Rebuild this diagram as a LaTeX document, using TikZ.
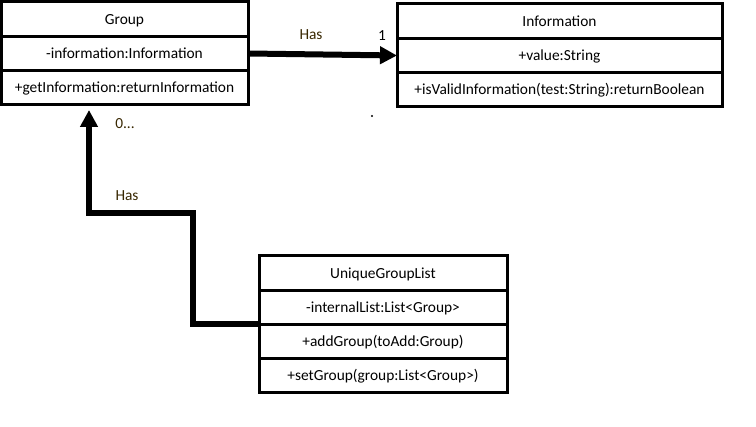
\documentclass[tikz,border=0pt]{standalone}
\usepackage{fontspec}
\setmainfont{Carlito}
\usetikzlibrary{arrows.meta,calc}
\definecolor{lbl}{RGB}{55,38,0}
\tikzset{
  umlrow/.style={draw=black, line width=3pt, inner sep=0pt, outer sep=0pt, anchor=north west,
    font=\fontsize{15.4pt}{17pt}\selectfont, text=black, text height=11pt, text depth=1pt},
  assoc/.style={line width=6pt, line join=miter, -{Triangle[length=17pt,width=17pt]}},
  lbltext/.style={font=\fontsize{15.4pt}{17pt}\selectfont, text=lbl, inner sep=0pt},
}
\begin{document}
\begin{tikzpicture}[x=1pt,y=-1pt]
\useasboundingbox (0,0) rectangle (756,427);
% Group
\node[umlrow, minimum width=247pt, minimum height=34.33pt] (g1) at (1,2) {Group};
\node[umlrow, minimum width=247pt, minimum height=34.33pt] (g2) at (g1.south west) {-information:Information};
\node[umlrow, minimum width=247pt, minimum height=34.33pt] (g3) at (g2.south west) {+getInformation:returnInformation};
% Information
\node[umlrow, minimum width=325pt, minimum height=34.33pt] (i1) at (397,4) {Information};
\node[umlrow, minimum width=325pt, minimum height=34.33pt] (i2) at (i1.south west) {+value:String};
\node[umlrow, minimum width=325pt, minimum height=34.33pt] (i3) at (i2.south west) {+isValidInformation(test:String):returnBoolean};
% UniqueGroupList
\node[umlrow, minimum width=248pt, minimum height=34.25pt] (u1) at (259,256) {UniqueGroupList};
\node[umlrow, minimum width=248pt, minimum height=34.25pt] (u2) at (u1.south west) {-internalList:List<Group>};
\node[umlrow, minimum width=248pt, minimum height=34.25pt] (u3) at (u2.south west) {+addGroup(toAdd:Group)};
\node[umlrow, minimum width=248pt, minimum height=34.25pt] (u4) at (u3.south west) {+setGroup(group:List<Group>)};
% connectors
\draw[assoc] (g2.east) -- (i2.west);
\coordinate (bend) at (193,213);
\coordinate (gtarget) at ($(g3.south west)+(88,5)$);
\draw[assoc] (u2.south west) -| (bend) -| (gtarget);
% labels
\node[lbltext] (has1) at (311,35) {Has};
\node[lbltext, text=black] (one) at (382,36) {1};
\node[lbltext] (zero) at (125,124) {0...};
\node[lbltext] (has2) at (127,196) {Has};
\fill[black] (372,116) circle (1.2pt);
\end{tikzpicture}
\end{document}
